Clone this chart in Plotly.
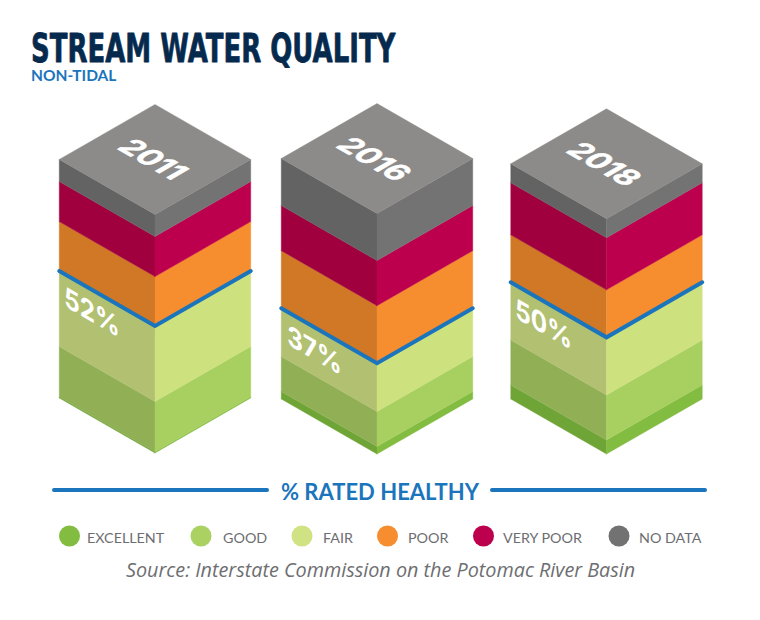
import plotly.graph_objects as go

years = ['2011', '2016', '2018']
healthy_labels = ['52%', '37%', '50%']

# categories bottom to top of a column
categories = ['EXCELLENT', 'GOOD', 'FAIR', 'POOR', 'VERY POOR', 'NO DATA']
excellent = [0.5, 3.1, 5.8]
good = [21.0, 14.6, 18.8]
fair = [31.2, 19.9, 23.8]
poor = [20.8, 24.2, 20.0]
very_poor = [16.7, 18.8, 21.7]
no_data = [9.2, 19.6, 7.9]
series = [excellent, good, fair, poor, very_poor, no_data]

left_colors = ['#6fa536', '#91b056', '#b2c072', '#d07825', '#a1003f', '#636363']
right_colors = ['#82bc41', '#a8d060', '#cee17f', '#f68d2e', '#bd004d', '#737373']
legend_colors = ['#82bc41', '#aad162', '#cfe284', '#f68d2e', '#bd004d', '#727272']
top_color = '#8c8b89'
blue = '#1b75bc'
grey_text = '#6d6e71'

# layout of the isometric columns, in page pixels
col_center = [155, 377, 606.5]
col_base = [453, 454, 454]
half_w = 95.75
half_h = 55
px_per_pct = 2.4

legend_x = [69.5, 201, 302, 387.5, 483.5, 619]
legend_text_x = [87, 223, 323, 408, 503, 639]
legend_y = 536

fig = go.Figure()


def add_face(xs, ys, color, name):
    fig.add_trace(go.Scatter(x=xs, y=ys, mode='lines', fill='toself', fillcolor=color,
                             line=dict(width=0.4, color=color), name=name, hoverinfo='name'))


annotations = []
for i, year in enumerate(years):
    cx = col_center[i]
    y = col_base[i]
    split_y = None
    for c, cat in enumerate(categories):
        h = series[c][i] * px_per_pct
        # left face then right face of this band
        add_face([cx - half_w, cx, cx, cx - half_w, cx - half_w],
                 [y - half_h, y, y - h, y - half_h - h, y - half_h], left_colors[c], f'{year} {cat}')
        add_face([cx, cx + half_w, cx + half_w, cx, cx],
                 [y, y - half_h, y - half_h - h, y - h, y], right_colors[c], f'{year} {cat}')
        y -= h
        if cat == 'FAIR':
            split_y = y

    # top of the column
    add_face([cx - half_w, cx, cx + half_w, cx, cx - half_w],
             [y - half_h, y, y - half_h, y - 2 * half_h, y - half_h], top_color, f'{year} top')
    annotations.append(dict(x=cx - 2, y=y - half_h, text=f'<b>{year}</b>', showarrow=False,
                            font=dict(family='Inter', size=30, color='white')))

    # healthy line sits on the FAIR / POOR boundary
    slope = half_h / half_w
    fig.add_trace(go.Scatter(x=[cx - half_w, cx, cx + half_w],
                             y=[split_y - half_h - 0.5, split_y - 0.5, split_y - half_h - 0.5],
                             mode='lines', line=dict(color=blue, width=4), hoverinfo='skip'))
    annotations.append(dict(x=cx - 63, y=split_y - 63 * slope + 22, text=f'<b>{healthy_labels[i]}</b>',
                            showarrow=False, font=dict(family='Inter', size=28, color='white')))

# rule either side of the heading
for xs in ([54, 267], [492, 705]):
    fig.add_trace(go.Scatter(x=xs, y=[490, 490], mode='lines', line=dict(color=blue, width=4), hoverinfo='skip'))

fig.add_trace(go.Scatter(x=legend_x, y=[legend_y] * 6, mode='markers', hoverinfo='skip',
                         marker=dict(size=21, color=legend_colors, line=dict(width=0))))
for c, cat in enumerate(categories):
    annotations.append(dict(x=legend_text_x[c], y=legend_y + 1, text=cat, xanchor='left', showarrow=False,
                            xshift=-2, font=dict(family='Lato', size=14.3, color=grey_text)))

annotations += [
    dict(x=31, y=48, text='<b>STREAM WATER QUALITY</b>', xanchor='left', showarrow=False, xshift=-2,
         font=dict(family='DejaVu Sans', size=39, color='#062a4e')),
    dict(x=31, y=75, text='<b>NON-TIDAL</b>', xanchor='left', showarrow=False, xshift=-2,
         font=dict(family='Lato', size=15.5, color=blue)),
    dict(x=380, y=491, text='<b>% RATED HEALTHY</b>', showarrow=False,
         font=dict(family='Lato', size=22, color=blue)),
    dict(x=380, y=569, text='<i>Source: Interstate Commission on the Potomac River Basin</i>', showarrow=False,
         font=dict(family='Open Sans', size=19.8, color=grey_text)),
]

fig.update_layout(
    width=760, height=620, margin=dict(l=0, r=0, t=0, b=0),
    paper_bgcolor='white', plot_bgcolor='white', showlegend=False,
    xaxis=dict(range=[0, 760], visible=False, fixedrange=True),
    yaxis=dict(range=[620, 0], visible=False, fixedrange=True),
    annotations=annotations,
)

# plotly has no skew for text, so the labels get pushed onto the column faces after drawing
warp_js = """
document.body.style.margin = '0';
document.querySelectorAll('.js-line').forEach(function (l) { l.style.strokeLinecap = 'round'; });
function warp(match, m, stroke) {
    document.querySelectorAll('text.annotation-text').forEach(function (t) {
        if (!match(t.textContent)) return;
        var b = t.getBBox(), x = b.x + b.width / 2, y = b.y + b.height / 2;
        var e = x - m[0] * x - m[2] * y, f = y - m[1] * x - m[3] * y;
        t.setAttribute('transform', 'matrix(' + [m[0], m[1], m[2], m[3], e, f].join(' ') + ')');
        if (stroke) {
            t.style.stroke = t.style.fill;
            t.style.strokeWidth = stroke + 'px';
            t.style.strokeLinejoin = 'round';
        }
    });
}
warp(function (s) { return /^20\\d\\d$/.test(s); }, [0.866, 0.5, -0.866, 0.5], 0.6);
warp(function (s) { return /^\\d\\d%$/.test(s); }, [0.866, 0.5, 0, 1], 0);
document.querySelectorAll('text.annotation-text').forEach(function (t) {
    if (t.textContent.indexOf('STREAM') !== 0) return;
    var b = t.getBBox(), sx = 365 / b.width;
    t.setAttribute('transform', 'matrix(' + sx + ' 0 0 1 ' + (b.x - sx * b.x) + ' 0)');
    t.style.stroke = t.style.fill;
    t.style.strokeWidth = '0.8px';
    t.style.strokeLinejoin = 'round';
});
"""

fig.write_html("out.html", config=dict(displayModeBar=False), post_script=warp_js)
